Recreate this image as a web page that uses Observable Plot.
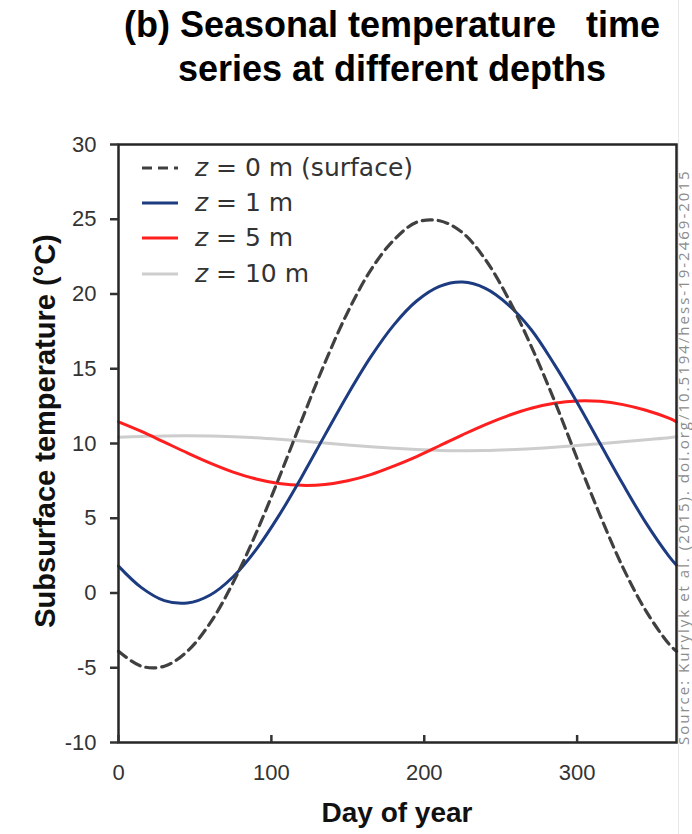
<!DOCTYPE html>
<html>
<head>
<meta charset="utf-8">
<script src="https://cdn.jsdelivr.net/npm/d3@7"></script>
<script src="https://cdn.jsdelivr.net/npm/@observablehq/plot@0.6"></script>
<style>
  html, body { margin: 0; padding: 0; background: #fff; }
  #wrap { position: relative; width: 692px; height: 834px; overflow: hidden; background: #fff; }
  #title { position: absolute; left: 392px; top: 2.5px; transform: translateX(-50%); text-align: center;
    font: bold 36px "Liberation Sans", Arial, sans-serif; line-height: 44px; color: #000; white-space: nowrap; }
  #title div { white-space: pre; }
  #chart { position: absolute; left: 0; top: 100px; }
  #ytitle { position: absolute; left: 45px; top: 431px; transform: translate(-50%, -50%) rotate(-90deg);
    font: bold 29px "Liberation Sans", Arial, sans-serif; line-height: 1; white-space: nowrap; color: #111; }
  #xtitle { position: absolute; left: 397px; top: 799px; transform: translateX(-50%);
    font: bold 28px "Liberation Sans", Arial, sans-serif; line-height: 1; white-space: nowrap; color: #111; }
  .leg { position: absolute; left: 142px; height: 25px; display: flex; align-items: flex-start;
    font: 25px "DejaVu Sans", sans-serif; line-height: 1; color: #333; white-space: pre; }
  .leg svg { margin-top: 10px; margin-right: 17px; }
  #source { position: absolute; left: 676px; top: 745px; transform-origin: 0 0; transform: rotate(-90deg);
    font: 15px "Open Sans", sans-serif; letter-spacing: 2px; line-height: 1; color: #8c8c8c; white-space: nowrap; }
  #sep { position: absolute; left: 678px; top: 0; width: 1px; height: 834px; background: #e8e8e8; }
</style>
</head>
<body>
<div id="wrap">
  <div id="title"><div>(b) Seasonal temperature   time</div><div>series at different depths</div></div>
  <div id="sep"></div>
  <div id="chart"></div>
  <div id="ytitle">Subsurface temperature (°C)</div>
  <div id="xtitle">Day of year</div>
  <div id="legend"></div>
  <div id="source">Source: Kurylyk et al. (2015). doi.org/10.5194/hess-19-2469-2015</div>
</div>
<script>
// Day of year
const days = [0, 15, 30, 45, 60, 75, 90, 105, 120, 135, 150, 165, 180, 195, 210, 225, 240, 255, 270, 285, 300, 315, 330, 345, 360, 365];
// z = 0 m (surface)
const surface = [-3.9, -4.9, -4.9, -3.9, -2.0, 0.7, 4.0, 7.7, 11.6, 15.4, 18.8, 21.6, 23.6, 24.8, 24.9, 24.1, 22.3, 19.7, 16.5, 12.9, 9.0, 5.2, 1.7, -1.2, -3.4, -3.9];
// z = 1 m
const depth1 = [1.8, 0.36, -0.51, -0.67, -0.13, 1.09, 2.90, 5.19, 7.80, 10.56, 13.28, 15.79, 17.92, 19.53, 20.51, 20.80, 20.38, 19.28, 17.61, 15.31, 12.75, 10.00, 7.27, 4.69, 2.47, 1.86];
// z = 5 m
const depth5 = [11.45, 10.81, 10.09, 9.37, 8.69, 8.09, 7.63, 7.33, 7.20, 7.26, 7.51, 7.92, 8.49, 9.13, 9.85, 10.58, 11.27, 11.87, 12.36, 12.69, 12.85, 12.82, 12.60, 12.22, 11.69, 11.45];
// z = 10 m
const depth10 = [10.42, 10.47, 10.51, 10.52, 10.50, 10.45, 10.38, 10.28, 10.16, 10.03, 9.90, 9.78, 9.68, 9.60, 9.54, 9.52, 9.53, 9.58, 9.65, 9.75, 9.86, 9.99, 10.12, 10.25, 10.38, 10.45];

const xTicks = [0, 100, 200, 300];
const yTicks = [-10, -5, 0, 5, 10, 15, 20, 25, 30];

const seriesNames = ["z = 0 m (surface)", "z = 1 m", "z = 5 m", "z = 10 m"];
const seriesLabels = [["z", " = 0 m (surface)"], ["z", " = 1 m"], ["z", " = 5 m"], ["z", " = 10 m"]];
const seriesValues = [surface, depth1, depth5, depth10];
const seriesColors = ["#404040", "#1d3b80", "#ff1f1f", "#cdcdcd"];
const seriesDash = ["10,6", null, null, null];
const seriesWidth = [3.2, 3, 3, 3];

const rows = seriesNames.flatMap((name, i) => days.map((d, j) => ({series: name, day: d, temp: seriesValues[i][j]})));

const lineMark = (i) => Plot.line(rows.filter(r => r.series === seriesNames[i]), {
  x: "day", y: "temp", stroke: seriesColors[i], strokeWidth: seriesWidth[i],
  strokeDasharray: seriesDash[i], curve: "catmull-rom"
});

const chart = Plot.plot({
  width: 692,
  height: 734,
  marginTop: 44,
  marginBottom: 92,
  marginLeft: 118,
  marginRight: 16,
  x: {domain: [0, 365]},
  y: {domain: [-10, 30]},
  style: {fontFamily: "'Liberation Sans', Arial, sans-serif", fontSize: "22px", color: "#333", background: "transparent", overflow: "visible"},
  marks: [
    lineMark(3),
    lineMark(2),
    lineMark(1),
    lineMark(0),
    Plot.frame({stroke: "#262626", strokeWidth: 2.5}),
    Plot.axisY(yTicks, {tickSize: 8, tickPadding: 14, strokeWidth: 2.5, label: null, fontSize: 22, color: "#333", tickFormat: d => String(d)}),
    Plot.axisX(xTicks, {tickSize: -7, tickPadding: 29, strokeWidth: 2.5, label: null, fontSize: 22, color: "#333", tickFormat: d => String(d)})
  ]
});
document.getElementById("chart").appendChild(chart);

// legend (inside plot area, top-left)
const legend = document.getElementById("legend");
const legTops = [155, 190, 225, 261];
seriesNames.forEach((name, i) => {
  const row = document.createElement("div");
  row.className = "leg";
  row.style.top = legTops[i] + "px";
  const dash = seriesDash[i] ? `stroke-dasharray="${seriesDash[i]}"` : "";
  row.innerHTML = `<svg width="36" height="6"><line x1="0" x2="36" y1="3" y2="3" stroke="${seriesColors[i]}" stroke-width="${seriesWidth[i]}" ${dash}/></svg>` +
    `<span><i>${seriesLabels[i][0]}</i>${seriesLabels[i][1]}</span>`;
  legend.appendChild(row);
});
</script>
</body>
</html>
